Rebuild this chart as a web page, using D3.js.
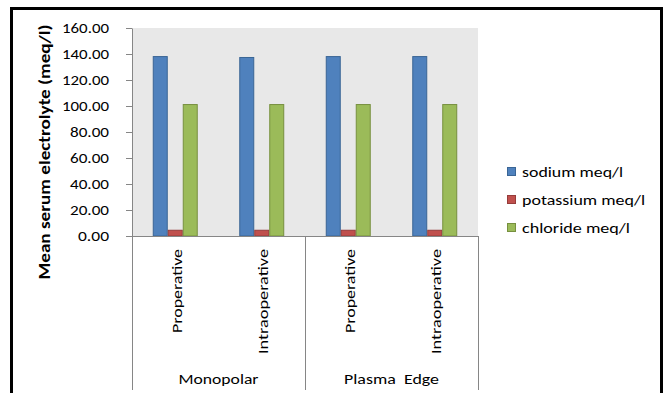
<!DOCTYPE html>
<html>
<head>
<meta charset="utf-8">
<script src="https://cdn.jsdelivr.net/npm/d3@7"></script>
<style>
  html, body { margin: 0; padding: 0; background: #fff; }
  svg { display: block; }
  text { font-family: Carlito, Calibri, Lato, "Open Sans", sans-serif; fill: #000; }
</style>
</head>
<body>
<svg id="chart" width="665" height="393"></svg>
<script>
// Mean serum electrolytes per technique and time point
const groups = ["Monopolar", "Plasma  Edge"];
const stages = ["Properative", "Intraoperative"];
const series = ["sodium meq/l", "potassium meq/l", "chloride meq/l"];
const sodium = [138.4, 137.7, 138.4, 138.4];
const potassium = [4.8, 4.8, 4.8, 4.8];
const chloride = [101.5, 101.5, 101.5, 101.5];
const yTicks = [0, 20, 40, 60, 80, 100, 120, 140, 160];
const fills = ["#4f81bd", "#c0504d", "#9bbb59"];
const strokes = ["#3a6595", "#963c3a", "#77903f"];

const categories = [];
groups.forEach(g => stages.forEach(s => categories.push({ group: g, stage: s, key: g + "|" + s })));
const valuesBySeries = [sodium, potassium, chloride];

const svg = d3.select("#chart");
const plot = { left: 132, right: 478, top: 28, bottom: 236 };

// outer frame
svg.append("rect")
  .attr("x", 11.5).attr("y", 8.5)
  .attr("width", 650).attr("height", 420)
  .attr("fill", "none").attr("stroke", "#000").attr("stroke-width", 3);

// plot background
svg.append("rect")
  .attr("x", plot.left).attr("y", plot.top)
  .attr("width", plot.right - plot.left).attr("height", plot.bottom - plot.top)
  .attr("fill", "#e8e8e8");

const y = d3.scaleLinear().domain([0, 160]).range([plot.bottom, plot.top]);
const x0 = d3.scaleBand().domain(categories.map(d => d.key)).range([plot.left, plot.right]);
const bw = x0.bandwidth();
const x1 = d3.scaleBand().domain(series).range([bw * 0.24, bw * 0.76]);

// y axis
const fmt = d3.format(".2f");
const yAxis = svg.append("g")
  .attr("transform", `translate(${plot.left},0)`)
  .call(d3.axisLeft(y).tickValues(yTicks).tickFormat(fmt).tickSizeInner(6).tickSizeOuter(0).tickPadding(17));
yAxis.select(".domain").attr("stroke", "#868686");
yAxis.selectAll(".tick line").attr("stroke", "#868686");
yAxis.selectAll(".tick text").attr("font-size", 15).attr("fill", "#000")
  .attr("font-family", "Carlito, Calibri, Lato, sans-serif")
  .attr("textLength", d => fmt(d).length * 8 - 1)
  .attr("lengthAdjust", "spacingAndGlyphs");

// bars
series.forEach((s, si) => {
  svg.append("g").selectAll("rect")
    .data(categories.map((c, ci) => ({ c, v: valuesBySeries[si][ci] })))
    .join("rect")
    .attr("x", d => x0(d.c.key) + x1(s) + 0.5)
    .attr("y", d => y(d.v) + 0.5)
    .attr("width", x1.bandwidth() - 1)
    .attr("height", d => y(0) - y(d.v) - 0.5)
    .attr("fill", fills[si])
    .attr("stroke", strokes[si])
    .attr("stroke-width", 1);
});

// x axis line and category dividers
const axisColor = "#868686";
svg.append("line")
  .attr("x1", plot.left - 6).attr("x2", plot.right)
  .attr("y1", plot.bottom + 0.5).attr("y2", plot.bottom + 0.5)
  .attr("stroke", axisColor);
const dividers = [plot.left, x0(categories[2].key), plot.right];
svg.selectAll(".divider").data(dividers).join("line")
  .attr("class", "divider")
  .attr("x1", d => Math.round(d) + 0.5).attr("x2", d => Math.round(d) + 0.5)
  .attr("y1", plot.bottom).attr("y2", 390)
  .attr("stroke", axisColor);

// stage labels (rotated)
svg.selectAll(".stage").data(categories).join("text")
  .attr("class", "stage")
  .attr("transform", d => `translate(${x0(d.key) + bw / 2 + 1},249) rotate(-90)`)
  .attr("text-anchor", "end")
  .attr("dy", "0.35em")
  .attr("font-size", 15)
  .attr("textLength", d => d.stage === "Properative" ? 84 : 105)
  .attr("lengthAdjust", "spacingAndGlyphs")
  .text(d => d.stage);

// group labels
svg.selectAll(".grp").data(groups).join("text")
  .attr("class", "grp")
  .attr("x", (g, i) => (x0(categories[i * 2].key) + x0(categories[i * 2 + 1].key) + bw) / 2)
  .attr("y", 384)
  .attr("text-anchor", "middle")
  .attr("font-size", 15)
  .attr("textLength", (g, i) => i === 0 ? 80 : 95)
  .attr("lengthAdjust", "spacingAndGlyphs")
  .style("white-space", "pre")
  .text(g => g);

// y axis title
svg.append("text")
  .attr("transform", "translate(45,152) rotate(-90)")
  .attr("text-anchor", "middle")
  .attr("dy", "0.35em")
  .attr("font-size", 15)
  .attr("font-weight", "bold")
  .attr("textLength", 255)
  .attr("lengthAdjust", "spacingAndGlyphs")
  .text("Mean serum electrolyte (meq/l)");

// legend
const legendY = [172, 200, 228];
const legendLen = [101, 123, 108];
const legend = svg.append("g");
series.forEach((s, i) => {
  legend.append("rect")
    .attr("x", 507.5).attr("y", legendY[i] - 4.5)
    .attr("width", 8).attr("height", 8)
    .attr("fill", fills[i]).attr("stroke", strokes[i]);
  legend.append("text")
    .attr("x", 522).attr("y", legendY[i])
    .attr("dy", "0.35em")
    .attr("font-size", 15)
    .attr("textLength", legendLen[i])
    .attr("lengthAdjust", "spacingAndGlyphs")
    .text(s);
});
</script>
</body>
</html>
